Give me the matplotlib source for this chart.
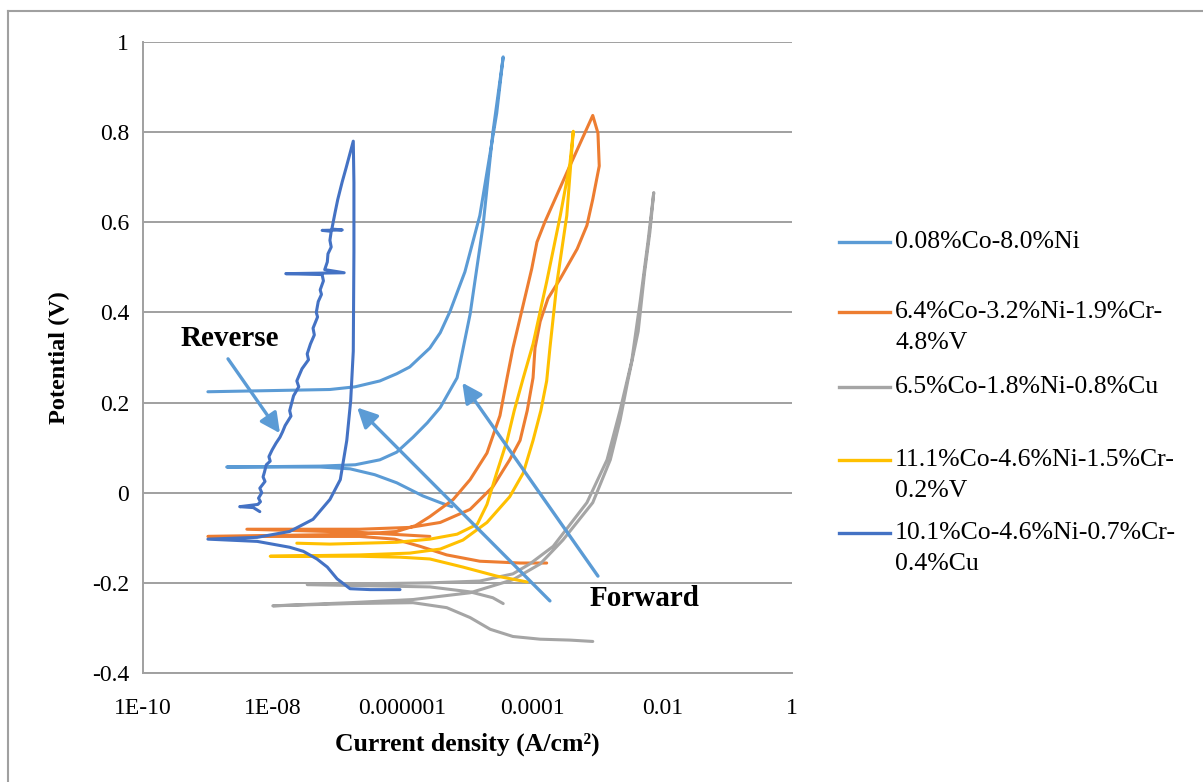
import numpy as np
import matplotlib.pyplot as plt
from matplotlib.lines import Line2D

# Data: log10(current density) and potential (V)
labels = ["0.08%Co-8.0%Ni",
          "6.4%Co-3.2%Ni-1.9%Cr-\n4.8%V",
          "6.5%Co-1.8%Ni-0.8%Cu",
          "11.1%Co-4.6%Ni-1.5%Cr-\n0.2%V",
          "10.1%Co-4.6%Ni-0.7%Cr-\n0.4%Cu"]
colors = ["#5B9BD5", "#ED7D31", "#A5A5A5", "#FFC000", "#4472C4"]

s1_log_i = [-5.24, -5.42, -5.69, -6.09, -6.43, -6.81, -7.27, -8.71, -7.27, -6.73,
            -6.35, -6.09, -5.84, -5.62, -5.42, -5.16, -4.96, -4.76, -4.61, -4.45,
            -4.55, -4.81, -5.04, -5.27, -5.42, -5.58, -5.89, -6.09, -6.35, -6.73, -7.12, -9.00]
s1_v = [-0.031, -0.022, -0.007, 0.022, 0.040, 0.053, 0.057, 0.057, 0.059, 0.062,
        0.073, 0.090, 0.123, 0.155, 0.189, 0.255, 0.396, 0.593, 0.798, 0.967,
        0.842, 0.615, 0.490, 0.402, 0.355, 0.321, 0.279, 0.264, 0.248, 0.235, 0.229, 0.224]

s2_log_i = [-3.78, -4.19, -4.81, -5.32, -5.73, -6.12, -6.66, -9.00, -6.66, -6.09,
            -5.80, -5.58, -5.22, -4.96, -4.70, -4.50, -4.39, -4.30, -4.14, -4.01, -3.93,
            -3.81, -3.47, -3.07,
            -2.99, -2.97, -3.07, -3.16, -3.31, -3.57, -3.76, -3.88, -3.96, -3.99,
            -4.08, -4.19, -4.35, -4.61, -4.96, -5.42, -5.89, -6.66, -8.40, -6.66, -5.58]
s2_v = [-0.156, -0.156, -0.152, -0.138, -0.119, -0.103, -0.097, -0.097, -0.092, -0.086,
        -0.073, -0.053, -0.015, 0.029, 0.088, 0.171, 0.255, 0.321, 0.418, 0.497, 0.556,
        0.600, 0.710, 0.837,
        0.798, 0.725, 0.651, 0.593, 0.541, 0.475, 0.431, 0.380, 0.321, 0.255,
        0.182, 0.116, 0.073, 0.013, -0.037, -0.066, -0.077, -0.081, -0.081, -0.088, -0.097]

s3_log_i = [-3.07, -3.42, -3.88, -4.30, -4.65, -4.96, -5.32, -5.84, -6.81, -8.00,
            -6.81, -5.84, -4.96, -4.30, -3.88, -3.53, -3.07, -2.80, -2.65, -2.53,
            -2.37, -2.27, -2.19, -2.13,
            -2.22, -2.34, -2.47, -2.65, -2.85, -3.16, -3.68, -4.04, -4.30, -4.81,
            -5.58, -7.47, -5.58, -4.96, -4.61, -4.45]
s3_v = [-0.330, -0.327, -0.325, -0.319, -0.303, -0.277, -0.255, -0.244, -0.246, -0.251,
        -0.244, -0.237, -0.222, -0.193, -0.158, -0.105, -0.022, 0.073, 0.160, 0.248,
        0.358, 0.490, 0.578, 0.666,
        0.556, 0.424, 0.292, 0.182, 0.073, -0.022, -0.119, -0.158, -0.180, -0.196,
        -0.200, -0.204, -0.209, -0.220, -0.233, -0.246]

s4_log_i = [-4.08, -4.55, -5.07, -5.58, -6.04, -6.66, -8.04, -6.66, -5.89, -5.42,
            -5.07, -4.70, -4.35, -4.14, -3.99, -3.87, -3.78, -3.73, -3.62, -3.47, -3.37,
            -3.42, -3.57, -3.78, -3.99, -4.14, -4.28, -4.39, -4.55, -4.70, -4.85,
            -5.16, -5.58, -6.09, -7.12, -7.63]
s4_v = [-0.198, -0.185, -0.165, -0.147, -0.143, -0.141, -0.141, -0.138, -0.134, -0.125,
        -0.105, -0.066, -0.009, 0.044, 0.116, 0.182, 0.248, 0.321, 0.468, 0.615, 0.802,
        0.732, 0.615, 0.468, 0.330, 0.255, 0.182, 0.116, 0.044, -0.026, -0.070,
        -0.092, -0.103, -0.110, -0.114, -0.112]

s5_log_i = [-6.04, -6.50, -6.81, -7.01, -7.16, -7.32, -7.53, -7.74, -8.24, -9.00,
            -8.24, -7.74, -7.38, -7.12, -6.96, -6.86, -6.80, -6.76, -6.75, -6.75, -6.76,
            -6.87, -6.93, -6.96, -7.00, -7.04, -7.07, -7.09, -6.93, -7.24, -7.10,
            -7.12, -7.10, -7.15, -7.16, -7.20, -6.90, -7.80, -7.24,
            -7.22, -7.27, -7.25, -7.30, -7.33, -7.31, -7.38, -7.36, -7.42, -7.47,
            -7.45, -7.55, -7.58, -7.63, -7.60, -7.68, -7.74, -7.72, -7.81, -7.85,
            -7.89, -7.95, -8.01, -8.06, -8.04, -8.10, -8.13, -8.15, -8.12, -8.20,
            -8.17, -8.22, -8.19, -8.23, -8.51, -8.30, -8.20]
s5_v = [-0.215, -0.215, -0.213, -0.191, -0.165, -0.147, -0.130, -0.121, -0.108, -0.103,
        -0.099, -0.086, -0.059, -0.015, 0.029, 0.116, 0.204, 0.314, 0.534, 0.688, 0.780,
        0.721, 0.690, 0.673, 0.650, 0.622, 0.600, 0.585, 0.583, 0.582, 0.580,
        0.560, 0.545, 0.530, 0.512, 0.495, 0.488, 0.486, 0.484,
        0.470, 0.450, 0.440, 0.424, 0.400, 0.390, 0.365, 0.350, 0.330, 0.308,
        0.295, 0.275, 0.265, 0.248, 0.235, 0.215, 0.182, 0.170, 0.149, 0.135,
        0.123, 0.110, 0.095, 0.080, 0.070, 0.062, 0.045, 0.035, 0.025, 0.010,
        0.000, -0.012, -0.020, -0.026, -0.031, -0.033, -0.042]

series_log_i = [s1_log_i, s2_log_i, s3_log_i, s4_log_i, s5_log_i]
series_v = [s1_v, s2_v, s3_v, s4_v, s5_v]

x_ticks = [1e-10, 1e-8, 1e-6, 1e-4, 1e-2, 1]
x_ticklabels = ["1E-10", "1E-08", "0.000001", "0.0001", "0.01", "1"]
y_ticks = [-0.4, -0.2, 0, 0.2, 0.4, 0.6, 0.8, 1]
y_ticklabels = ["-0.4", "-0.2", "0", "0.2", "0.4", "0.6", "0.8", "1"]

# annotation arrows: (tail log i, tail V, head log i, head V)
reverse_arrow = (-8.69, 0.297, -7.89, 0.132)
forward_arrows = [(-3.73, -0.240, -6.70, 0.189), (-2.99, -0.185, -5.08, 0.244)]
reverse_text_pos = (-8.66, 0.343)
forward_text_pos = (-2.27, -0.235)

serif = ["Liberation Serif", "DejaVu Serif"]
grid_col = "#A0A0A0"

W, H = 1203, 782
fig = plt.figure(figsize=(W / 100, H / 100), dpi=100)
ax = fig.add_axes([143 / W, 1 - 673 / H, (792 - 143) / W, (673 - 42) / H])

for li, v, c in zip(series_log_i, series_v, colors):
    ax.plot(10 ** np.array(li), v, color=c, lw=2.2, solid_joinstyle="round",
            solid_capstyle="round")

ax.set_xscale("log")
ax.set_xlim(1e-10, 1)
ax.set_ylim(-0.4, 1)
ax.set_xticks(x_ticks)
ax.set_xticklabels(x_ticklabels, family=serif, fontsize=17)
ax.xaxis.set_minor_locator(plt.NullLocator())
ax.set_yticks(y_ticks)
ax.set_yticklabels(y_ticklabels, family=serif, fontsize=17)
ax.tick_params(axis="both", length=0)
ax.tick_params(axis="x", pad=18)
ax.tick_params(axis="y", pad=10)
ax.yaxis.grid(True, color=grid_col, lw=1.4)
ax.set_axisbelow(True)
for side in ["top", "right"]:
    ax.spines[side].set_visible(False)
for side in ["left", "bottom"]:
    ax.spines[side].set_color(grid_col)
    ax.spines[side].set_linewidth(1.4)

ax.set_xlabel("Current density (A/cm²)", family=serif, fontsize=18.5, fontweight="bold", labelpad=10)
ax.set_ylabel("Potential (V)", family=serif, fontsize=17.5, fontweight="bold", labelpad=16)

arrow_kw = dict(arrowstyle="-|>,head_length=0.6,head_width=0.3", color="#5B9BD5",
                lw=2.4, mutation_scale=20, shrinkA=0, shrinkB=0)
for a in [reverse_arrow] + forward_arrows:
    ax.annotate("", xy=(10 ** a[2], a[3]), xytext=(10 ** a[0], a[1]), arrowprops=arrow_kw)
ax.text(10 ** reverse_text_pos[0], reverse_text_pos[1], "Reverse", family=serif,
        fontsize=21, fontweight="bold", ha="center", va="center")
ax.text(10 ** forward_text_pos[0], forward_text_pos[1], "Forward", family=serif,
        fontsize=21, fontweight="bold", ha="center", va="center")

# legend drawn like Excel's
leg_y = [242, 312, 387, 460, 533]
for lab, c, y in zip(labels, colors, leg_y):
    fig.add_artist(Line2D([839 / W, 890 / W], [1 - y / H, 1 - y / H], color=c, lw=2.4))
    for k, line in enumerate(lab.split("\n")):
        fig.text(895 / W, 1 - (y + 31 * k) / H, line, family=serif, fontsize=18.5,
                 ha="left", va="center")

# outer frame (top and left edges visible)
fig.add_artist(Line2D([8 / W, 8 / W], [0, 1 - 11 / H], color=grid_col, lw=1.5))
fig.add_artist(Line2D([8 / W, 1], [1 - 11 / H, 1 - 11 / H], color=grid_col, lw=1.5))

fig.savefig("out.png", dpi=100)
